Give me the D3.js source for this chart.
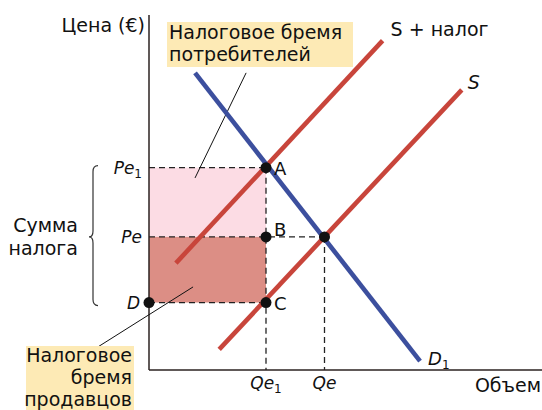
<!DOCTYPE html>
<html><head><meta charset="utf-8">
<script src="https://cdn.jsdelivr.net/npm/d3@7/dist/d3.min.js"></script>
<style>
html,body{margin:0;padding:0;background:#fff;}
svg{display:block;font-family:"DejaVu Sans",Verdana,sans-serif;}
</style></head>
<body>
<svg id="chart" width="542" height="410"></svg>
<script>
// ---- data (arbitrary units 0..100) ----
const demandLine = [{q: 11.8, p: 83.7}, {q: 69.5, p: 2.5}];
const supplyLine = [{q: 18.0, p: 5.8}, {q: 80.2, p: 78.9}];
const supplyTaxLine = [{q: 6.9, p: 30.1}, {q: 59.9, p: 92.8}];
const priceValues = [57, 37.5, 19];           // Pe1, Pe, D
const priceLabels = [["Pe", "1"], ["Pe", ""], ["D", ""]];
const quantityValues = [30, 45];              // Qe1, Qe
const quantityLabels = [["Qe", "1"], ["Qe", ""]];
const points = [
  {name: "A", q: 30, p: 57},
  {name: "B", q: 30, p: 37.5},
  {name: "C", q: 30, p: 19},
  {name: "", q: 0, p: 19},
  {name: "", q: 45, p: 37.5}
];
const leaderConsumers = [{q: 24.9, p: 83.7}, {q: 11.8, p: 54.1}];
const leaderSellers = [{q: 11.3, p: 23.4}, {q: -13.1, p: 6.5}];

(function () {
// ---- scales ----
const svg = d3.select("#chart");
const x = d3.scaleLinear().domain([0, 100]).range([149, 539]);
const y = d3.scaleLinear().domain([0, 100]).range([370, 15]);
const line = d3.line().x(d => x(d.q)).y(d => y(d.p));

const Pe1 = priceValues[0], Pe = priceValues[1], Pd = priceValues[2];
const Qe1 = quantityValues[0], Qe = quantityValues[1];
const big = 19;

// rectangles (tax burden)
svg.append("rect").attr("x", x(0)).attr("y", y(Pe1))
  .attr("width", x(Qe1) - x(0)).attr("height", y(Pe) - y(Pe1)).attr("fill", "#fcdce4");
svg.append("rect").attr("x", x(0)).attr("y", y(Pe))
  .attr("width", x(Qe1) - x(0)).attr("height", y(Pd) - y(Pe)).attr("fill", "#dc8e85");

// dashed guides
const dashes = [
  [{q: 0, p: Pe1}, {q: Qe1, p: Pe1}],
  [{q: 0, p: Pe}, {q: Qe, p: Pe}],
  [{q: 0, p: Pd}, {q: Qe1, p: Pd}],
  [{q: Qe1, p: Pe1}, {q: Qe1, p: 0}],
  [{q: Qe, p: Pe}, {q: Qe, p: 0}]
];
svg.selectAll(".dash").data(dashes).join("path").attr("class", "dash")
  .attr("d", line).attr("fill", "none").attr("stroke", "#222")
  .attr("stroke-width", 1.3).attr("stroke-dasharray", "6,4");

// axes
svg.append("line").attr("x1", x(0)).attr("x2", x(0)).attr("y1", y(100)).attr("y2", y(0))
  .attr("stroke", "#2b2220").attr("stroke-width", 1.5);
svg.append("line").attr("x1", x(0)).attr("x2", x(100) + 3).attr("y1", y(0)).attr("y2", y(0))
  .attr("stroke", "#2b2220").attr("stroke-width", 1.5);

// leader lines
[leaderConsumers, leaderSellers].forEach(l => {
  svg.append("path").attr("d", line(l)).attr("stroke", "#111").attr("stroke-width", 1).attr("fill", "none");
});

// curves
svg.append("path").attr("d", line(supplyTaxLine)).attr("stroke", "#c8453b").attr("stroke-width", 4.6).attr("fill", "none");
svg.append("path").attr("d", line(supplyLine)).attr("stroke", "#c8453b").attr("stroke-width", 4.6).attr("fill", "none");
svg.append("path").attr("d", line(demandLine)).attr("stroke", "#3c4f9e").attr("stroke-width", 4.6).attr("fill", "none");

// points
svg.selectAll(".pt").data(points).join("circle").attr("class", "pt")
  .attr("cx", d => x(d.q)).attr("cy", d => y(d.p)).attr("r", 5.5).attr("fill", "#111");
svg.selectAll(".ptl").data(points.filter(d => d.name)).join("text").attr("class", "ptl")
  .attr("x", d => x(d.q) + 8).attr("y", d => y(d.p) + (d.name === "B" ? -1 : 7))
  .attr("font-size", 18).attr("fill", "#111").text(d => d.name);

// price tick labels
const fs = 17;
priceValues.forEach((v, i) => {
  const t = svg.append("text").attr("x", x(0) - (i === 2 ? 9 : 7)).attr("y", y(v) + 6)
    .attr("text-anchor", "end").attr("font-size", fs).attr("fill", "#111");
  t.append("tspan").attr("font-style", "italic").text(priceLabels[i][0]);
  if (priceLabels[i][1]) t.append("tspan").attr("font-size", 12).attr("dy", 4).text(priceLabels[i][1]);
});
// quantity tick labels
quantityValues.forEach((v, i) => {
  const t = svg.append("text").attr("x", x(v)).attr("y", y(0) + 19)
    .attr("text-anchor", "middle").attr("font-size", fs).attr("fill", "#111");
  t.append("tspan").attr("font-style", "italic").text(quantityLabels[i][0]);
  if (quantityLabels[i][1]) t.append("tspan").attr("font-size", 12).attr("dy", 4).text(quantityLabels[i][1]);
});

// axis titles
svg.append("text").attr("x", 145).attr("y", 32).attr("text-anchor", "end")
  .attr("font-size", big).attr("fill", "#111").text("Цена (€)");
svg.append("text").attr("x", 541).attr("y", 392).attr("text-anchor", "end")
  .attr("font-size", big).attr("fill", "#111").text("Объем");

// curve labels
svg.append("text").attr("x", x(supplyTaxLine[1].q) + 8).attr("y", y(supplyTaxLine[1].p) - 5)
  .attr("font-size", big).attr("fill", "#111").text("S + налог");
svg.append("text").attr("x", x(supplyLine[1].q) + 6).attr("y", y(supplyLine[1].p) - 1)
  .attr("font-size", big).attr("font-style", "italic").attr("fill", "#111").text("S");
const dl = svg.append("text").attr("x", x(demandLine[1].q) + 8).attr("y", y(demandLine[1].p) + 4)
  .attr("font-size", 18).attr("fill", "#111");
dl.append("tspan").attr("font-style", "italic").text("D");
dl.append("tspan").attr("font-size", 12).attr("dy", 4).text("1");

// consumer burden box
svg.append("rect").attr("x", 167).attr("y", 22).attr("width", 186).attr("height", 45).attr("fill", "#fdeab5");
const cb = svg.append("text").attr("x", 169).attr("font-size", big).attr("fill", "#111");
cb.append("tspan").attr("x", 169).attr("y", 39).text("Налоговое бремя");
cb.append("tspan").attr("x", 169).attr("y", 61).text("потребителей");

// seller burden box
svg.append("rect").attr("x", 26).attr("y", 346).attr("width", 108).attr("height", 70).attr("fill", "#fdeab5");
const sb = svg.append("text").attr("text-anchor", "end").attr("font-size", big).attr("fill", "#111");
sb.append("tspan").attr("x", 132).attr("y", 362).text("Налоговое");
sb.append("tspan").attr("x", 132).attr("y", 384).text("бремя");
sb.append("tspan").attr("x", 132).attr("y", 406).text("продавцов");

// tax sum brace + label
const bTop = y(Pe1) - 2, bBot = y(Pd) + 3, bMid = y(Pe);
const bx = 93;
svg.append("path")
  .attr("d", `M${bx + 5},${bTop} Q${bx},${bTop} ${bx},${bTop + 6} L${bx},${bMid - 6} Q${bx},${bMid} ${bx - 4},${bMid} Q${bx},${bMid} ${bx},${bMid + 6} L${bx},${bBot - 6} Q${bx},${bBot} ${bx + 5},${bBot}`)
  .attr("fill", "none").attr("stroke", "#333").attr("stroke-width", 1.2);
const st = svg.append("text").attr("text-anchor", "end").attr("font-size", big).attr("fill", "#111");
st.append("tspan").attr("x", 78).attr("y", 232).text("Сумма");
st.append("tspan").attr("x", 78).attr("y", 255).text("налога");
})();
</script>
</body></html>
